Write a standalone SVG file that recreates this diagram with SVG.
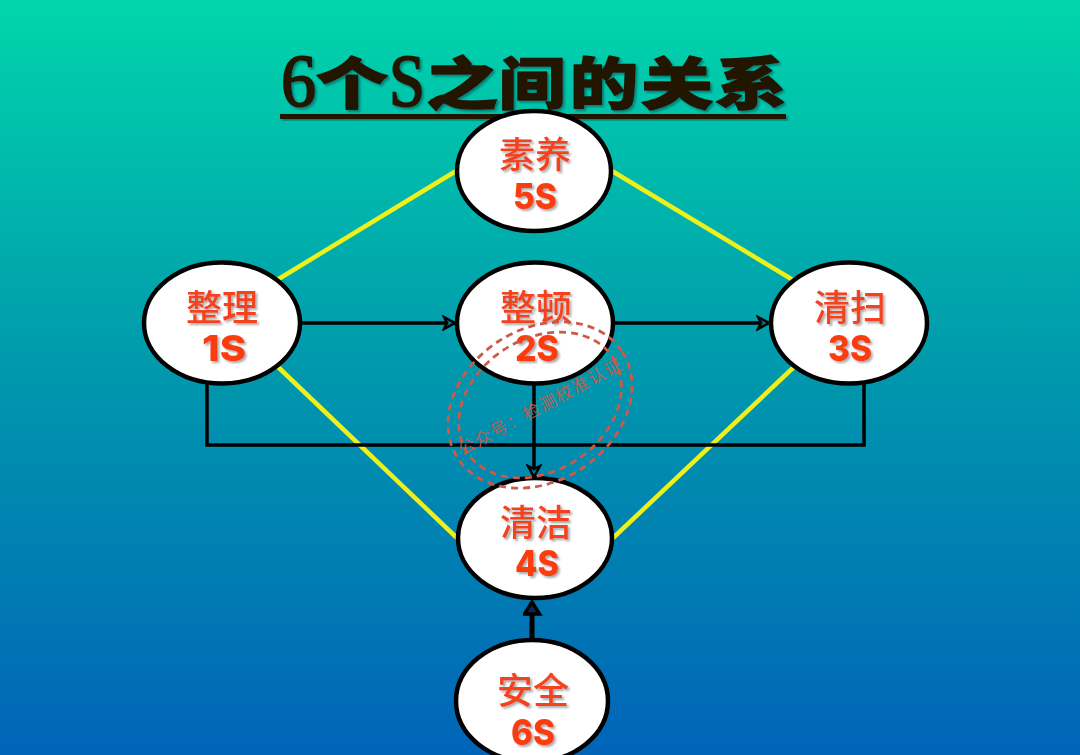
<svg xmlns="http://www.w3.org/2000/svg" width="1080" height="755" viewBox="0 0 1080 755">
<style>
.n{fill:#fff;stroke:#000;stroke-width:4.500}
.y{stroke:#eef01c;stroke-width:4.500;fill:none}
.k{stroke:#000;stroke-width:3.500;fill:none}
.c{font-family:"Noto Sans CJK SC",sans-serif;font-weight:500;font-size:36px;fill:#f4431a;text-anchor:middle;filter:url(#s)}
.l{font-family:Inter,"DejaVu Sans",sans-serif;font-weight:800;font-size:36px;fill:#fb3c0c;filter:url(#s)}
.t{font-family:"Noto Sans CJK SC",sans-serif;font-weight:900;font-size:56px;fill:#231505;stroke:#231505;stroke-width:1.500;stroke-linejoin:round;filter:url(#s2)}
.ts{font-family:"Liberation Serif",serif;font-size:74px;fill:#231505;stroke:#231505;stroke-width:2;filter:url(#s2)}
.st{fill:none;stroke:#cc5a48;stroke-dasharray:7 5;stroke-width:2.800}
</style>
<defs>
<linearGradient id="bg" x1="0" y1="0" x2="0" y2="1">
<stop offset="0" stop-color="#00d6ab"/><stop offset=".5" stop-color="#0097ad"/><stop offset="1" stop-color="#0064b8"/>
</linearGradient>
<filter id="s" x="-20%" y="-20%" width="150%" height="150%"><feDropShadow dx="2" dy="2" stdDeviation="1" flood-color="#888" flood-opacity=".7"/></filter>
<filter id="s2" x="-10%" y="-20%" width="120%" height="150%"><feDropShadow dx="2" dy="2" stdDeviation="1" flood-color="#055" flood-opacity=".6"/></filter>
<marker id="a" markerWidth="16" markerHeight="16" refX="13" refY="8" orient="auto" markerUnits="userSpaceOnUse"><path d="M2 2L13 8L2 14L5 8Z" fill="#0a6f90" stroke="#000" stroke-width="2.500"/></marker>
<marker id="b" markerWidth="20" markerHeight="20" refX="14" refY="9" orient="auto" markerUnits="userSpaceOnUse"><path d="M2 1.500L14 9L2 16.500Z" fill="#062a58" stroke="#000" stroke-width="3.500"/></marker>
<path id="sp" d="M462 456L628 366"/>
</defs>
<rect width="1080" height="755" fill="url(#bg)"/>
<g id="title">
<text class="ts" x="281" y="106" textLength="35" lengthAdjust="spacingAndGlyphs">6</text>
<text class="t" x="316" y="104" textLength="72" lengthAdjust="spacingAndGlyphs">个</text>
<text class="ts" x="389" y="106" textLength="36" lengthAdjust="spacingAndGlyphs">S</text>
<text class="t" x="426" y="104" textLength="72" lengthAdjust="spacingAndGlyphs">之</text>
<text class="t" x="499" y="104" textLength="66" lengthAdjust="spacingAndGlyphs">间</text>
<text class="t" x="570" y="104" textLength="68" lengthAdjust="spacingAndGlyphs">的</text>
<text class="t" x="641" y="104" textLength="72" lengthAdjust="spacingAndGlyphs">关</text>
<text class="t" x="715" y="104" textLength="72" lengthAdjust="spacingAndGlyphs">系</text>
<rect x="280" y="114" width="506" height="5" fill="#231505" filter="url(#s2)"/>
</g>
<g id="connectors">
<path class="y" d="M277 280L456 171M612 171L793 280M277 366L457 538M613 538L795 366"/>
<path class="k" d="M207 382V445H864V382"/>
<path class="k" d="M301 323H455" marker-end="url(#a)"/>
<path class="k" d="M615 323H769" marker-end="url(#a)"/>
<path class="k" d="M534 384V477" marker-end="url(#a)"/>
<path d="M532 641V602" stroke="#000" stroke-width="5" fill="none" marker-end="url(#b)"/>
</g>
<g id="n5"><ellipse class="n" cx="534" cy="171" rx="77" ry="60"/><text class="c" x="535" y="168">素养</text><text class="l" x="513" y="209" textLength="44" lengthAdjust="spacingAndGlyphs">5S</text></g>
<g id="n1"><ellipse class="n" cx="222" cy="323" rx="78" ry="60.500"/><text class="c" x="222" y="321">整理</text><text class="l" x="202" y="361" textLength="44" lengthAdjust="spacingAndGlyphs">1S</text></g>
<g id="n2"><ellipse class="n" cx="535" cy="323" rx="78" ry="60.500"/><text class="c" x="536" y="321">整顿</text><text class="l" x="515" y="361" textLength="44" lengthAdjust="spacingAndGlyphs">2S</text></g>
<g id="n3"><ellipse class="n" cx="849" cy="323" rx="78" ry="60.500"/><text class="c" x="850" y="321">清扫</text><text class="l" x="828" y="361" textLength="44" lengthAdjust="spacingAndGlyphs">3S</text></g>
<g id="n4"><ellipse class="n" cx="535" cy="538" rx="77" ry="60"/><text class="c" x="536" y="536">清洁</text><text class="l" x="515" y="576" textLength="44" lengthAdjust="spacingAndGlyphs">4S</text></g>
<g id="n6"><ellipse class="n" cx="532" cy="701" rx="76" ry="61"/><text class="c" x="533" y="704">安全</text><text class="l" x="511" y="745" textLength="44" lengthAdjust="spacingAndGlyphs">6S</text></g>
<g id="stamp" transform="rotate(-33 540 405)">
<ellipse class="st" cx="540" cy="405" rx="98" ry="76"/>
<ellipse class="st" cx="540" cy="405" rx="87" ry="66" stroke-width="1.800"/>
</g>
<text font-family="Noto Sans CJK SC,sans-serif" font-size="17" letter-spacing="1.500" fill="#cc5a48" fill-opacity=".9"><textPath href="#sp">公众号：检测校准认证</textPath></text>
</svg>
